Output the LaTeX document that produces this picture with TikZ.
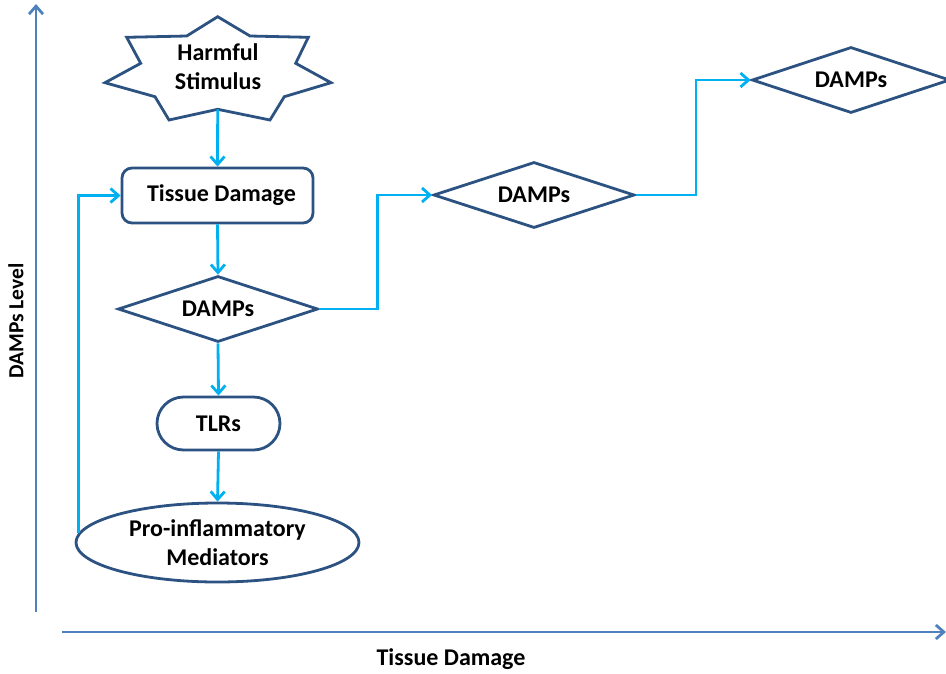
\documentclass[tikz,border=0pt]{standalone}
\usepackage{fontspec}
\setmainfont{Carlito}
\usetikzlibrary{arrows.meta,shapes.geometric,shapes.misc}
\definecolor{nodeblue}{RGB}{44,82,130}
\definecolor{axisblue}{RGB}{79,129,189}
\definecolor{conncyan}{RGB}{0,176,240}
\begin{document}
\begin{tikzpicture}[x=1pt,y=-1pt,
  every node/.style={font=\fontsize{24}{29}\selectfont\bfseries, align=center},
  box/.style={draw=nodeblue, line width=2.8pt, fill=white, inner sep=0pt},
  dia/.style={box, diamond, shape aspect=3, minimum width=200pt, minimum height=66pt},
  conn/.style={draw=conncyan, line width=2.8pt, -{Straight Barb[length=8pt,width=14pt]}},
  axis/.style={draw=axisblue, line width=2.8pt, -{Straight Barb[length=8pt,width=14pt]}}]
\useasboundingbox (0,0) rectangle (946,673);
% axes
\coordinate (yb) at (36,612);
\coordinate (yt) at (36,4);
\coordinate (xl) at (62,632);
\coordinate (xr) at (946,632);
\draw[axis] (yb) -- (yt);
\draw[axis] (xl) -- (xr);
\node[rotate=90, font=\fontsize{21.5}{25}\selectfont\bfseries] (ylab) at (16,321) {DAMPs Level};
\node (xlab) at (451,659) {Tissue Damage};
% star
\draw[nodeblue, line width=2.8pt, fill=white, line join=miter]
  (217.7,16.7) -- (250,36) -- (308.3,37.3) -- (295.7,63.3) -- (331,82.7) -- (284.3,96.7)
  -- (270,120) -- (217.7,109.3) -- (169,120) -- (155,96.7) -- (105,82.7) -- (140.7,63.3)
  -- (126.7,37.3) -- (186.7,36) -- cycle;
\node (stim) at (218,66.5) {Harmful\\Stimulus};
\coordinate (stimb) at (217.7,109.3);
% nodes
\node[box, rounded corners=10pt, minimum width=191pt, minimum height=55pt] (td) at (217.5,195.5) {\hspace*{8pt}Tissue Damage};
\node[dia] (d1) at (218,309) {DAMPs};
\node[box, rounded rectangle, minimum width=123pt, minimum height=53pt] (tlr) at (218.5,423.5) {TLRs};
\node[box, ellipse, minimum width=283pt, minimum height=79pt] (pim) at (217.5,542.5) {Pro-inflammatory\\Mediators};
\node[dia, minimum width=201pt] (d2) at (534,195) {DAMPs};
\node[dia, minimum width=198pt] (d3) at (851,80) {DAMPs};
% connectors
\draw[conn] (stimb) -- (td.north);
\draw[conn] (td.south) -- (d1.north);
\draw[conn] (d1.south) -- (tlr.north);
\draw[conn] (tlr.south) -- (pim.north);
\draw[conn] (pim.176) |- (td.west);
\draw[conn] (d1.east) -- ++(58,0) |- (d2.west);
\draw[conn] (d2.east) -- ++(60,0) |- (d3.west);
\end{tikzpicture}
\end{document}
